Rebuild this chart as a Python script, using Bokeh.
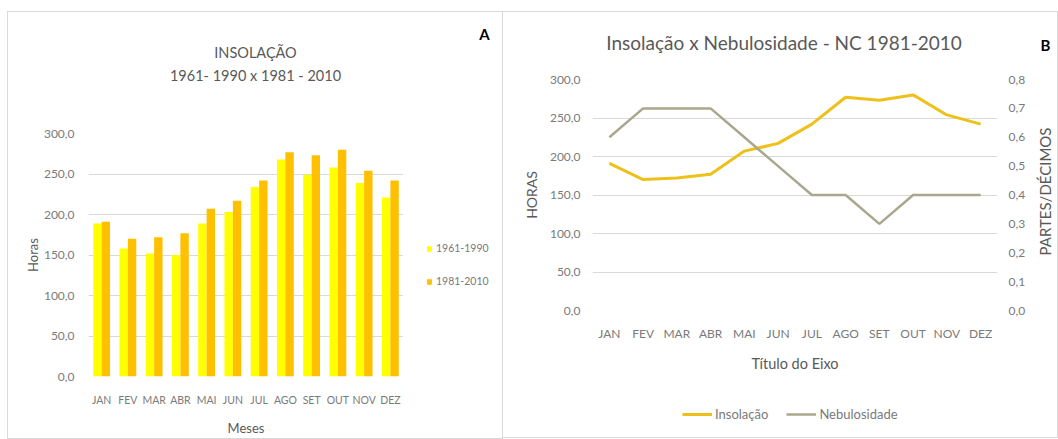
from bokeh.plotting import figure
from bokeh.models import (Range1d, LinearAxis, Legend, LegendItem, Label,
                          CustomJSTickFormatter, FixedTicker)
from bokeh.layouts import row, column
from bokeh.transform import dodge
from bokeh.embed import file_html
from bokeh.resources import INLINE

# ---------------- data ----------------
months = ["JAN", "FEV", "MAR", "ABR", "MAI", "JUN", "JUL", "AGO", "SET", "OUT", "NOV", "DEZ"]
ins_1961_1990 = [189, 158, 152, 150, 189, 203, 234, 268, 249, 258, 239, 221]
ins_1981_2010 = [191, 170, 172, 177, 207, 217, 242, 277, 273, 280, 254, 242]
nebulosidade = [0.6, 0.7, 0.7, 0.7, 0.6, 0.5, 0.4, 0.4, 0.3, 0.4, 0.4, 0.4]
hours_ticks = [0, 50, 100, 150, 200, 250, 300]
neb_ticks = [0.0, 0.1, 0.2, 0.3, 0.4, 0.5, 0.6, 0.7, 0.8]

FONT = "Lato"
TXT = "#595959"
TICK = "#7a7a7a"
GRID = "#d9d9d9"
YEL = "#FFFF00"
ORA = "#FFC000"
LINE_Y = "#EEC11A"
LINE_G = "#A9A88E"

comma_fmt = CustomJSTickFormatter(code="return tick.toFixed(1).replace('.', ',');")


def style_axes(p, tick_size, xlab_size, xstand, ystand):
    for ax in p.xaxis + p.yaxis:
        ax.axis_line_color = None
        ax.major_tick_line_color = None
        ax.minor_tick_line_color = None
        ax.major_label_text_font = FONT
        ax.major_label_text_color = TICK
        ax.axis_label_text_font = FONT
        ax.axis_label_text_font_style = "normal"
        ax.axis_label_text_color = TXT
    for ax in p.xaxis:
        ax.major_label_text_font_size = xlab_size
        ax.major_label_standoff = xstand
    for ax in p.yaxis:
        ax.major_label_text_font_size = tick_size
        ax.major_label_standoff = ystand
    p.xgrid.grid_line_color = None
    p.ygrid.grid_line_color = GRID
    p.outline_line_color = None


def blank(w, h, **borders):
    b = figure(width=w, height=h, x_range=Range1d(0, 1), y_range=Range1d(0, 1),
               x_axis_type=None, y_axis_type=None, min_border=0, title=None,
               output_backend="svg", toolbar_location=None, **borders)
    b.xgrid.visible = False
    b.ygrid.visible = False
    b.outline_line_color = None
    return b


def lab(p, x, y, text, size, color=TXT, style="normal", angle=0):
    p.add_layout(Label(x=x, y=y, x_units="screen", y_units="screen", text=text,
                       text_font=FONT, text_font_size=size, text_color=color,
                       text_font_style=style, text_align="center", text_baseline="middle",
                       angle=angle, angle_units="deg"))


# ================= panel A =================
headA = blank(494, 113)
lab(headA, 247, 73, "INSOLAÇÃO", "14.5px")
lab(headA, 247, 50, "1961- 1990 x 1981 - 2010", "14.5px")
lab(headA, 476, 92, "A", "15px", color="#000000", style="bold")

pA = figure(x_range=months, y_range=Range1d(0, 300), width=395, height=313, title=None,
            output_backend="svg", toolbar_location=None,
            min_border_left=80, min_border_right=0, min_border_top=8, min_border_bottom=61)
srcA = dict(month=months, a=ins_1961_1990, b=ins_1981_2010)
pA.vbar(x=dodge("month", -0.16, range=pA.x_range), top="a", width=0.32, source=srcA,
        fill_color=YEL, line_color=None)
pA.vbar(x=dodge("month", 0.16, range=pA.x_range), top="b", width=0.32, source=srcA,
        fill_color=ORA, line_color=None)
pA.yaxis.ticker = FixedTicker(ticks=hours_ticks)
pA.yaxis.formatter = comma_fmt
pA.yaxis.axis_label = "Horas"
pA.xaxis.axis_label = "Meses"
style_axes(pA, "12px", "10.5px", 11, 8)
pA.yaxis.axis_label_text_font_size = "13px"
pA.yaxis.axis_label_standoff = 0
pA.xaxis.axis_label_text_font_size = "13px"
pA.xaxis.axis_label_standoff = 11

legFigA = blank(99, 313, min_border_top=8, min_border_bottom=61)
pa = legFigA.vbar(x=[-5], top=[0], width=1, fill_color=YEL, line_color=None)
pb = legFigA.vbar(x=[-5], top=[0], width=1, fill_color=ORA, line_color=None)
legFigA.add_layout(Legend(items=[LegendItem(label="1961-1990", renderers=[pa]),
                                 LegendItem(label="1981-2010", renderers=[pb])],
                          location=(23, 87), orientation="vertical",
                          glyph_width=6, glyph_height=7, label_height=16, spacing=17,
                          label_standoff=4, padding=0, margin=0,
                          border_line_color=None, background_fill_alpha=0,
                          label_text_font=FONT, label_text_font_size="10.5px",
                          label_text_color=TICK))

panelA = column(headA, row(pA, legFigA), styles={"outline": "1px solid #d9d9d9"})

# ================= panel B =================
headB = blank(554, 59)
lab(headB, 283, 29, "Insolação x  Nebulosidade - NC 1981-2010", "19px")
lab(headB, 542, 27, "B", "15px", color="#000000", style="bold")

pB = figure(x_range=months, y_range=Range1d(0, 300), width=525, height=305, title=None,
            output_backend="svg", toolbar_location=None,
            min_border_left=89, min_border_right=30, min_border_top=8, min_border_bottom=66)
pB.extra_y_ranges = {"neb": Range1d(0, 0.8)}
srcB = dict(month=months, ins=ins_1981_2010, neb=nebulosidade)
pB.line(x="month", y="ins", source=srcB, line_color=LINE_Y, line_width=3)
pB.line(x="month", y="neb", source=srcB, y_range_name="neb", line_color=LINE_G, line_width=2.5)
pB.yaxis.ticker = FixedTicker(ticks=hours_ticks)
pB.yaxis.formatter = comma_fmt
pB.yaxis.axis_label = "HORAS"
rax = LinearAxis(y_range_name="neb", ticker=FixedTicker(ticks=neb_ticks), formatter=comma_fmt)
pB.add_layout(rax, "right")
pB.xaxis.axis_label = "Título do Eixo"
style_axes(pB, "12px", "12px", 9, 6)
rax.major_label_standoff = 5
pB.yaxis[0].axis_label_text_font_size = "14px"
pB.yaxis[0].axis_label_standoff = 7
pB.xaxis.axis_label_text_font_size = "14.5px"
pB.xaxis.axis_label_standoff = 11

# right-axis title, reading bottom to top
rightTitle = blank(29, 305, min_border_top=8, min_border_bottom=66)
lab(rightTitle, 16, 119, "PARTES/DÉCIMOS", "15px", angle=90)

legFigB = blank(554, 61)
q1 = legFigB.line(x=[-5, -4], y=[0, 0], line_color=LINE_Y, line_width=3)
q2 = legFigB.line(x=[-5, -4], y=[0, 0], line_color=LINE_G, line_width=2.5)
legFigB.add_layout(Legend(items=[LegendItem(label="Insolação", renderers=[q1]),
                                 LegendItem(label="Nebulosidade", renderers=[q2])],
                          location=(179, 15), orientation="horizontal",
                          glyph_width=30, glyph_height=16, label_height=16, spacing=18,
                          label_standoff=3, padding=0, margin=0,
                          border_line_color=None, background_fill_alpha=0,
                          label_text_font=FONT, label_text_font_size="13px",
                          label_text_color=TICK))

panelB = column(headB, row(pB, rightTitle), legFigB, styles={"outline": "1px solid #d9d9d9"})

layout = row(panelA, panelB, spacing=1, margin=(12, 0, 0, 8))
open("out.html", "w").write(file_html(layout, INLINE))
